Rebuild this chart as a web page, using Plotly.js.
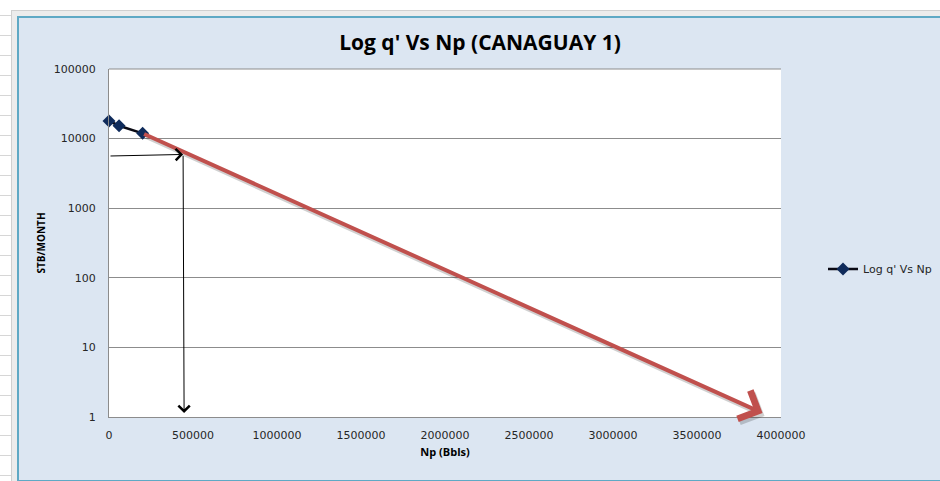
<!DOCTYPE html>
<html>
<head>
<meta charset="utf-8">
<script src="https://cdn.plot.ly/plotly-3.0.1.min.js"></script>
<style>
  html, body { margin: 0; padding: 0; background: #ffffff; width: 940px; height: 481px; overflow: hidden; }
  #sheetLeft { position: absolute; left: 0; top: 0; width: 11px; height: 481px;
    background: repeating-linear-gradient(to bottom, transparent 0px, transparent 15px, #d6d6d6 15px, #d6d6d6 16px, transparent 16px, transparent 20px); }
  #outer { position: absolute; left: 11px; top: 10px; width: 940px; height: 471px; background: #ececec; border-left: 1px solid #d0d0d0; border-top: 1px solid #d0d0d0; }
  #frame { position: absolute; left: 17px; top: 16px; width: 940px; height: 462px; background: #dce6f2; border: 2px solid #5fa9c5; }
  #plot { position: absolute; left: 0; top: 0; width: 940px; height: 481px; }
</style>
</head>
<body>
<div id="sheetLeft"></div>
<div id="outer"></div>
<div id="frame"></div>
<div id="plot"></div>
<script>
// Production data: cumulative production Np (bbls) vs rate q' (STB/month)
const npValues = [0, 60000, 200000];
const qValues = [17900, 15300, 11900];

// Extrapolated decline trend (red arrow): start and end points
const trendNp = [200000, 3890000];
const trendQ = [11900, 1.14];

// Reading guide (black arrows): horizontal then vertical
const guideHNp = [0, 441000];
const guideHQ = [5620, 5920];
const guideVNp = [441000, 447000];
const guideVQ = [5920, 1.14];

// Tick labels
const xTickVals = [0, 500000, 1000000, 1500000, 2000000, 2500000, 3000000, 3500000, 4000000];
const xTickText = ['0', '500000', '1000000', '1500000', '2000000', '2500000', '3000000', '3500000', '4000000'];
const yTickVals = [1, 10, 100, 1000, 10000, 100000];
const yTickText = ['1', '10', '100', '1000', '10000', '100000'];

function arrow(npArr, qArr, color, width, size, xs, ys) {
  return {
    x: npArr[1], y: Math.log10(qArr[1]),
    ax: npArr[0], ay: Math.log10(qArr[0]),
    xref: 'x', yref: 'y', axref: 'x', ayref: 'y',
    text: '', showarrow: true,
    arrowhead: 4, arrowsize: size, arrowwidth: width, arrowcolor: color,
    standoff: 0, startstandoff: 0,
    xshift: xs || 0, yshift: ys || 0
  };
}

const trace = {
  x: npValues, y: qValues,
  type: 'scatter', mode: 'lines+markers',
  name: "Log q' Vs Np",
  cliponaxis: false,
  line: { color: '#0a0a14', width: 2.5 },
  marker: { symbol: 'diamond', size: 10, color: '#0f2b5b' }
};

const tickFont = { family: 'DejaVu Sans, Verdana, sans-serif', size: 11, color: '#262626' };

const layout = {
  width: 940, height: 481,
  margin: { l: 109, r: 159, t: 69, b: 64, autoexpand: false },
  paper_bgcolor: 'rgba(0,0,0,0)',
  plot_bgcolor: '#ffffff',
  title: {
    text: "<b>Log q' Vs Np (CANAGUAY 1)</b>",
    font: { family: 'Open Sans, sans-serif', size: 21, color: '#000000' },
    xref: 'container', x: 480 / 940, xanchor: 'center',
    yref: 'container', y: 1 - 43 / 481, yanchor: 'middle'
  },
  xaxis: {
    range: [0, 4000000],
    tickvals: xTickVals, ticktext: xTickText,
    tickfont: tickFont,
    showgrid: false, zeroline: false,
    showline: true, linecolor: '#8c8c8c', linewidth: 1,
    ticks: '', ticklabelstandoff: 8,
    title: { text: '<b>Np (Bbls)</b>', font: { family: 'Open Sans, sans-serif', size: 11, color: '#000' }, standoff: 7 },
    fixedrange: true
  },
  yaxis: {
    type: 'log', range: [0, 5],
    tickvals: yTickVals, ticktext: yTickText,
    tickfont: tickFont,
    showgrid: true, gridcolor: '#8c8c8c', gridwidth: 1,
    zeroline: false,
    showline: true, linecolor: '#8c8c8c', linewidth: 1,
    ticks: '', ticklabelstandoff: 10,
    title: { text: '<b>STB/MONTH</b>', font: { family: 'Open Sans, sans-serif', size: 10, color: '#000' }, standoff: 6 },
    fixedrange: true
  },
  shapes: [
    { type: 'line', xref: 'paper', yref: 'paper', x0: 0, x1: 1, y0: 1, y1: 1, line: { color: '#8c8c8c', width: 1 } }
  ],
  showlegend: true,
  legend: {
    x: (823 - 109) / 672, xanchor: 'left',
    y: (417 - 269) / 348, yanchor: 'middle',
    bgcolor: 'rgba(0,0,0,0)',
    font: { family: 'DejaVu Sans, Verdana, sans-serif', size: 11, color: '#262626' }
  },
  annotations: [
    arrow(trendNp, trendQ, 'rgba(0,0,0,0.18)', 4, 1.5, 2, -3),
    arrow(trendNp, trendQ, '#c0504d', 4, 1.5),
    arrow(guideHNp, guideHQ, '#000000', 1, 2.2),
    arrow(guideVNp, guideVQ, '#000000', 1, 2.2)
  ]
};

Plotly.newPlot('plot', [trace], layout, { displayModeBar: false, staticPlot: true });
</script>
</body>
</html>
